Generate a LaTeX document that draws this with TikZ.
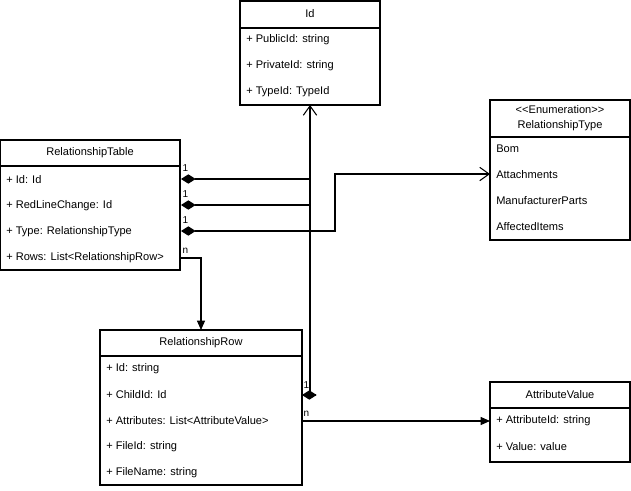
\documentclass[tikz,border=0pt]{standalone}
\usepackage{fontspec}
\setmainfont{Liberation Sans}[Ligatures=NoCommon]
\usetikzlibrary{arrows.meta, calc}

\tikzset{
  box/.style={draw, thick, fill=white, inner sep=0pt},
  head/.style={font=\fontsize{8.3}{11}\selectfont, align=center},
  member/.style={anchor=west, font=\fontsize{8.3}{10}\selectfont, inner sep=0pt},
  mult/.style={font=\fontsize{7.5}{9}\selectfont, inner sep=1pt},
  comp/.style={thick, {Diamond[length=11pt,width=7pt]}-},
  compto/.style={thick, {Diamond[length=11pt,width=7pt]}-{Straight Barb[length=7pt,width=10pt]}},
  assoc/.style={thick, -{Straight Barb[length=7pt,width=10pt]}},
  nav/.style={thick, -{Triangle[length=7pt,width=6pt]}}
}

\begin{document}
\begin{tikzpicture}[x=0.75pt, y=-0.75pt]

  \useasboundingbox (0, 0) rectangle (631, 490);

  % Id
  \draw[box] (240, 1) rectangle (380, 105);
  \draw[thick] (240, 28) -- (380, 28);
  \node[head] (idH) at (310, 14) {Id};
  \node[member] (idA) at (246, 40) {+ PublicId: string};
  \node[member] (idB) at (246, 66) {+ PrivateId: string};
  \node[member] (idC) at (246, 92) {+ TypeId: TypeId};
  \coordinate (idBot) at (310, 105);

  % RelationshipTable
  \draw[box] (0, 140) rectangle (180, 270);
  \draw[thick] (0, 166) -- (180, 166);
  \node[head] (tabH) at (90, 153) {RelationshipTable};
  \node[member] (tabA) at (6, 180) {+ Id: Id};
  \node[member] (tabB) at (6, 206) {+ RedLineChange: Id};
  \node[member] (tabC) at (6, 232) {+ Type: RelationshipType};
  \node[member] (tabD) at (6, 258) {+ Rows: List{<}RelationshipRow{>}};

  % RelationshipType
  \draw[box] (490, 100) rectangle (630, 240);
  \draw[thick] (490, 137) -- (630, 137);
  \node[head] (typH) at (560, 118) {{<}{<}Enumeration{>}{>}\\RelationshipType};
  \node[member] (typA) at (496, 149) {Bom};
  \node[member] (typB) at (496, 175) {Attachments};
  \node[member] (typC) at (496, 201) {ManufacturerParts};
  \node[member] (typD) at (496, 227) {AffectedItems};

  % RelationshipRow
  \draw[box] (100, 330) rectangle (302, 485);
  \draw[thick] (100, 356) -- (302, 356);
  \node[head] (rowH) at (201, 343) {RelationshipRow};
  \node[member] (rowA) at (106, 369) {+ Id: string};
  \node[member] (rowB) at (106, 395) {+ ChildId: Id};
  \node[member] (rowC) at (106, 421) {+ Attributes: List{<}AttributeValue{>}};
  \node[member] (rowD) at (106, 447) {+ FileId: string};
  \node[member] (rowE) at (106, 473) {+ FileName: string};

  % AttributeValue
  \draw[box] (490, 382) rectangle (630, 462);
  \draw[thick] (490, 408) -- (630, 408);
  \node[head] (attH) at (560, 395) {AttributeValue};
  \node[member] (attA) at (496, 421) {+ AttributeId: string};
  \node[member] (attB) at (496, 447) {+ Value: value};

  % connectors
  \coordinate (tabAe) at (181, 179);
  \coordinate (tabBe) at (181, 205);
  \coordinate (tabCe) at (181, 231);
  \coordinate (tabDe) at (180, 258);
  \coordinate (rowBe) at (302, 395);
  \coordinate (rowCe) at (302, 421);
  \coordinate (rowTop) at (201, 330);
  \coordinate (typIn) at (490, 174);
  \coordinate (attIn) at (490, 421);

  \draw[comp] (rowBe) -- (310, 395) -- (310, 110);
  \draw[assoc] (310, 115) -- (idBot);
  \draw[comp] (tabAe) -- (310, 179);
  \draw[comp] (tabBe) -- (310, 205);
  \draw[compto] (tabCe) -- (335, 231) -- (335, 174) -- (typIn);
  \draw[nav] (tabDe) -- (201, 258) -- (rowTop);
  \draw[nav] (rowCe) -- (attIn);

  \node[mult, anchor=south west] (m1) at (181, 173) {1};
  \node[mult, anchor=south west] (m2) at (181, 199) {1};
  \node[mult, anchor=south west] (m3) at (181, 225) {1};
  \node[mult, anchor=south west] (m4) at (181, 255) {n};
  \node[mult, anchor=south west] (m5) at (302, 390) {1};
  \node[mult, anchor=south west] (m6) at (302, 418) {n};

\end{tikzpicture}
\end{document}
